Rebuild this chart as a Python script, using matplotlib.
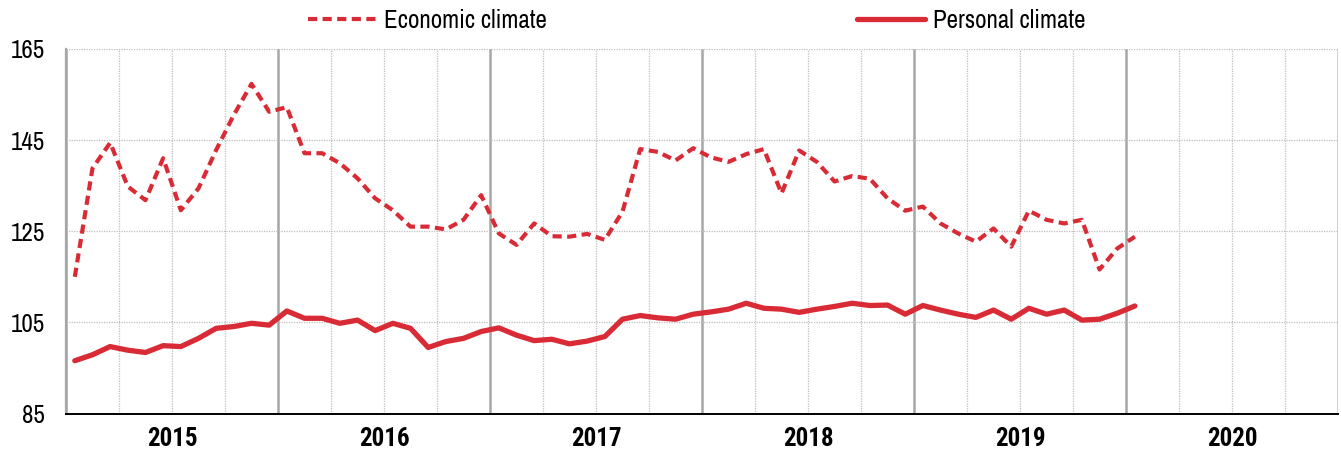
import matplotlib.pyplot as plt
import matplotlib.font_manager as fm

# monthly index values, Jan 2015 .. Jan 2020
economic = [115.0, 138.8, 144.4, 134.8, 131.8, 141.0, 129.6, 134.4, 142.8, 150.5, 157.3, 151.2,
            152.2, 142.1, 142.1, 139.9, 136.6, 132.2, 129.6, 126.0, 126.0, 125.4, 127.5, 132.9,
            124.5, 122.0, 126.7, 123.9, 123.8, 124.4, 123.1, 129.3, 143.0, 142.4, 140.5, 143.2,
            141.2, 140.2, 141.9, 143.0, 133.3, 142.7, 140.2, 135.9, 137.1, 136.5, 132.2, 129.5,
            130.4, 126.7, 124.5, 122.7, 125.6, 121.6, 129.5, 127.5, 126.7, 127.5, 116.6, 121.2,
            123.8]
personal = [96.6, 97.9, 99.7, 98.9, 98.4, 99.9, 99.7, 101.5, 103.7, 104.1, 104.8, 104.4,
            107.5, 105.9, 105.9, 104.8, 105.5, 103.2, 104.8, 103.7, 99.5, 100.8, 101.5, 103.0,
            103.8, 102.2, 101.0, 101.3, 100.3, 100.9, 101.9, 105.7, 106.5, 106.0, 105.7, 106.8,
            107.3, 107.9, 109.2, 108.1, 107.9, 107.2, 107.9, 108.5, 109.2, 108.7, 108.8, 106.8,
            108.7, 107.7, 106.8, 106.1, 107.7, 105.7, 108.1, 106.8, 107.7, 105.5, 105.7, 107.0,
            108.6]
years = ['2015', '2016', '2017', '2018', '2019', '2020']
yticks = [85, 105, 125, 145, 165]

# narrow font like Arial Narrow, whichever is installed
cands = ['Liberation Sans Narrow', 'Arial Narrow', 'Nimbus Sans Narrow', 'Archivo Narrow',
         'Roboto Condensed', 'PT Sans Narrow', 'Asap Condensed', 'Barlow Condensed']
fonts = fm.fontManager.ttflist
names = {f.name for f in fonts}
bold_names = {f.name for f in fonts if isinstance(f.weight, int) and f.weight >= 700
              or f.weight in ('bold', 'heavy', 'black')}
fam = next((c for c in cands if c in names), 'Liberation Sans')
bfam = next((c for c in cands if c in bold_names), 'Liberation Sans')
plt.rcParams['font.family'] = [fam, 'DejaVu Sans']

red = '#D92B35'
months = list(range(len(economic)))

fig = plt.figure(figsize=(13.41, 4.54), dpi=100)
ax = fig.add_axes([0.0492, 0.089, 0.9486, 0.8035])

# vertical grid: dotted quarters, solid years
for q in range(24):
    xq = q * 3 - 0.5
    if q % 4 == 0:
        ax.axvline(xq, color='#A6A6A6', lw=1.8, zorder=1)
    else:
        ax.axvline(xq, color='#BFBFBF', lw=0.9, ls=(0, (1, 1)), zorder=1)
ax.axvline(71.5, color='#C8C8C8', lw=1.2, zorder=1)

ax.plot(months, economic, color=red, lw=3.0, ls=(0, (2.2, 1.3)), label='Economic climate', zorder=3)
ax.plot(months, personal, color=red, lw=3.8, label='Personal climate', zorder=3,
        solid_capstyle='round', solid_joinstyle='round')

ax.set_xlim(-0.5, 71.5)
ax.set_ylim(85, 165)
ax.set_yticks(yticks)
ax.set_yticklabels([str(v) for v in yticks], fontsize=18)
ax.yaxis.grid(True, color='#BFBFBF', lw=0.9, ls=(0, (1, 1)), zorder=1)
ax.set_xticks([5.5 + 12 * k for k in range(len(years))])
ax.set_xticklabels(years, fontsize=18, fontweight='bold', family=[bfam, 'DejaVu Sans'])
ax.tick_params(axis='both', length=0)
ax.tick_params(axis='y', pad=15)
ax.tick_params(axis='x', pad=10)

for s in ['top', 'right']:
    ax.spines[s].set_visible(False)
ax.spines['left'].set_color('#A6A6A6')
ax.spines['left'].set_linewidth(1.6)
ax.spines['bottom'].set_color('black')
ax.spines['bottom'].set_linewidth(1.4)

fig.legend(loc='center', bbox_to_anchor=(0.5194, 0.955), ncol=2, frameon=False,
           fontsize=18, handlelength=2.75, handletextpad=0.3, columnspacing=12.4)

fig.savefig('out.png', dpi=100)
